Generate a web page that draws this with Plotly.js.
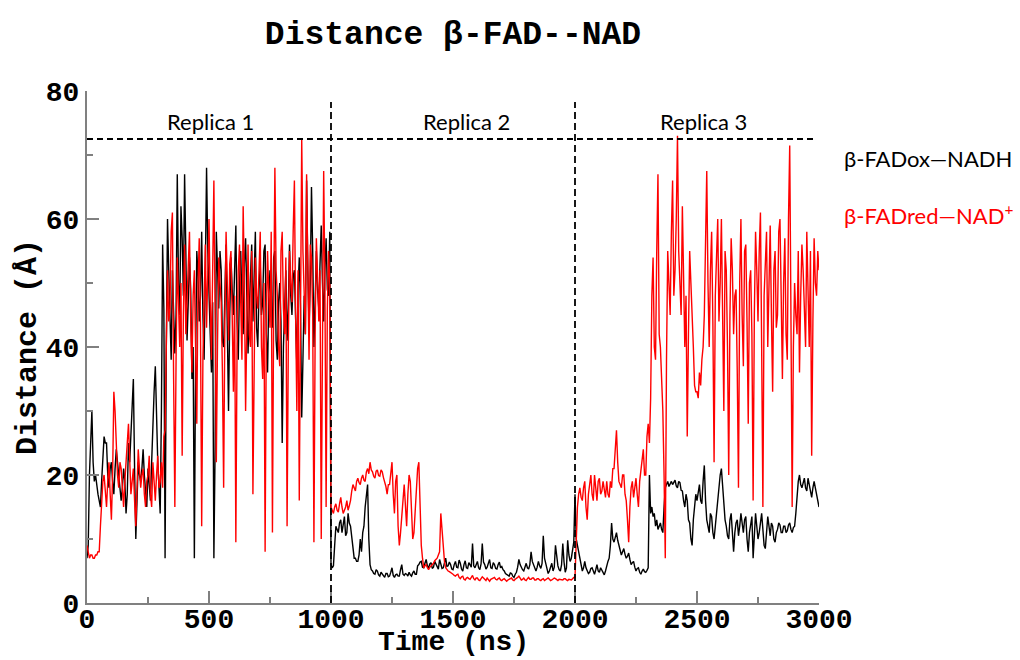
<!DOCTYPE html>
<html>
<head>
<meta charset="utf-8">
<script src="https://cdn.plot.ly/plotly-3.0.1.min.js"></script>
<style>html,body{margin:0;padding:0;background:#fff}#chart{width:1020px;height:660px}</style>
</head>
<body>
<div id="chart"></div>
<script>
// Time step between samples (ns)
const timeStep = 5;

// β-FADox—NADH (black), replica 1 (0–995 ns)
const oxRep1 = [
  7,9,20,25,30,22,19,20,18,17,16,15,19,24,26,25,25,20,18,21,
  22,19,17,21,24,22,20,18,16,18,21,19,14,17,25,22,27,30,35,21,
  10,16,22,20,19,21,24,20,17,15,21,19,16,22,29,33,37,28,22,18,
  14,30,56,46,7,40,60,52,44,38,52,47,39,45,67,50,45,62,57,48,
  67,55,41,47,54,49,35,40,7,38,55,51,44,48,58,45,38,52,68,55,
  50,42,36,47,7,24,58,50,46,55,52,41,40,48,56,43,30,45,54,49,
  45,52,59,44,38,50,55,47,42,53,57,48,39,46,50,56,44,51,58,43,
  40,49,53,45,47,55,56,42,36,48,52,46,43,54,55,41,38,47,50,44,
  25,40,48,52,41,46,56,48,45,51,52,43,37,49,54,46,29,38,48,42,
  66,52,43,50,65,55,40,47,55,49,46,53,59,50,44,52,57,49,48,58];
// replica 2 (1000–1995 ns)
const oxRep2 = [
  6,5.5,5.8,9,12,11.5,11,12.5,13,11,12,13.5,10.5,11,14,12.5,12,10,8,7,
  7,6.5,6.5,7.5,10,8,11,12,15,17,18.5,10,6,5.2,5,4.6,4.5,5.2,5,4.4,
  4.2,4.8,4.5,4.2,4,4.6,4.6,4.1,4.2,4.8,5.5,4.3,4,4.4,4.5,4.2,4.2,5.2,6,4.5,
  4.3,4.6,4.5,4.2,4.8,4.4,4.2,4.7,5,4.5,4.5,5.8,6,6.4,6.5,5.6,5.5,6.2,6.8,5.8,
  5.5,6.1,6.3,5.4,5.6,6.5,6,5.5,5.3,6.8,6.2,5.4,5.5,6.3,7,5.7,5.8,6.4,6,5.3,
  5.2,6,6.5,5.6,5.5,6.7,6.2,5.3,5,6,6.6,5.5,5.4,6.3,6,5.6,9.3,5.8,5.5,6.2,
  6.5,5.5,5.2,6.1,9.3,6.4,6,5.3,5.6,6.2,6.8,5.5,5.4,6.3,6,5.4,5.3,6,6.4,5.5,
  5.7,5.2,5,4.6,4.5,4.3,4.2,4.7,4.6,4.2,4,4.5,4.8,5.6,6.8,6,5.5,5.2,5,5.8,
  6.2,5.5,5.3,6,8,6.5,6,5.4,5,5.6,6.5,5.8,5.4,6.2,10.5,7,6,5.2,4.6,5,
  5.5,6.2,5,5.6,9,7,5.8,5.2,5,6,9.3,6.4,4.8,5.5,9.8,7.5,6.5,7,8.5,9.5];
// replica 3 (2000–3000 ns)
const oxRep3 = [
  17,10,9,8,7,6,5,5.5,6.5,5.5,5,4.6,4.8,5.4,5.5,4.8,4.5,5.2,6,5,
  4.8,5.5,5.2,4.7,4.4,5,6,6.5,7,9,12.5,10,9.5,10.5,11,9.8,9,8.2,7.5,8,
  8.5,7.6,7,7.3,7.8,6.8,6,6.3,6.5,5.6,5,5.4,5.5,4.8,4.5,5,5.3,4.9,4.8,5.1,
  5.5,20,14,15,13.5,14,12,13,11.5,12,12.5,11.5,11,15,18,18.5,19,18.2,18.5,19,
  18.5,19,19.2,18.3,18,19,18.8,17.6,17.5,16,15,17,16,13,12.5,10,9,13,15,17,
  16,17.5,18.5,16,15.5,19,21.5,16,13,12,11,14,13.5,11,10,12,14,17,18,20,
  21,18,15,13,12,10.5,10,13,14,11,8,11,12.5,13,10.5,12,14,12.5,11,13,
  13.5,10,8,11,12,13.5,7,10,14,12,10,11,13,14,11.5,9,8.5,11,13.5,12,
  10.5,12.5,12,10,9.5,11,11.5,12.5,12.2,11,11,12,12,11,11.3,12.2,12.5,11.5,11,11.8,
  12,14,17,19,20,18.5,18,19,19.5,18,17.5,19.5,18.5,17,16.5,18,19,18,17,16,
  15];

// β-FADred—NAD+ (red), replica 1
const redRep1 = [
  9,8,7,7.5,7.5,7,7,7.5,7.5,8,8,12,16,19,20,17,15,19,22,17,
  13,20,33,30,24,20,18,22,21,17,15,19,23,25,28,22,17,19,21,16,
  12,18,24,21,18,20,21,17,15,19,20,23,17,15,22,19,16,20,23,18,
  19,22,18,26,27,40,52,44,46,58,61,35,15,38,54,47,40,50,23,45,
  56,42,47,55,58,44,36,48,52,40,28,50,57,44,12,38,50,56,43,55,
  60,47,38,52,66,45,22,41,54,50,47,36,18,44,58,50,41,53,55,45,
  33,48,9.5,40,52,56,44,38,62,50,30,47,56,42,40,55,17,36,54,48,
  46,52,58,40,35,50,8,44,55,48,43,58,11,46,68,52,48,40,37,55,
  58,46,42,54,12,40,55,50,47,58,66,45,30,52,16,44,72.5,55,50,42,
  67,48,38,56,54,45,9.5,42,57,51,44,52,10,40,67.5,50,15,46,55,50];
// replica 2
const redRep2 = [
  15,14.5,14,15,15.5,14.5,14.2,15.5,16.5,15,14,14.5,15,16,14.5,15.2,16,17.5,18.5,18,
  17.5,19,19.5,18.8,18.5,19.5,20,19.2,19,20.5,21,20.2,22,20.8,20.5,19.8,19.5,20.6,20.8,19.9,
  19.8,20.8,20.5,19.6,19,18.2,17,18.5,18.5,21,22,17,14,19,20,12,9,11,13,16,
  18.5,15,12,17,20,19,15,10,11,14,17,21,22,13,9,7,5.5,5.8,6,5.5,
  5.2,5.6,5.8,6,6.2,6.6,6.8,7,7.5,8,14,11,8.5,6.5,5.5,5.2,5,4.9,4.8,4.6,
  4.5,4.3,4.2,4.4,4.5,4,3.8,4.1,4.2,3.7,3.6,3.9,4,3.8,3.7,4,4.3,3.8,3.6,3.9,
  3.9,3.6,3.5,3.8,4.1,3.9,3.7,3.5,3.9,3.6,3.4,3.7,3.8,4,4,3.7,3.6,3.8,3.9,3.6,
  3.5,3.7,3.8,3.6,3.4,3.6,3.7,3.9,3.9,3.6,3.5,3.7,3.8,4,4.2,3.8,3.6,3.7,3.9,3.6,
  3.5,3.8,4,3.7,3.7,3.9,3.9,3.6,3.6,3.8,3.8,3.6,3.5,3.7,3.8,3.5,3.6,3.8,3.9,3.7,
  3.5,3.6,3.7,3.9,3.8,3.6,3.5,3.7,3.7,3.6,3.6,3.8,3.8,3.6,3.5,3.7,3.7,3.6,3.8,4];
// replica 3
const redRep3 = [
  4,10,15,17,18,16.5,16,18,19,15,13,17,18.5,20,17,16,20,18,16,19,
  19.5,17,17.5,19,18,16.5,19,17,16.5,19,18,21,21,24,27,22,19,18.5,18,20,
  20,17,16,13,9.5,15,18,19,16.5,18,19.5,17,15,19,21,23,24,20,20,26,
  28,25,32,48,54,40,38,55,67,42,40,35,30,20,7,38,55,50,45,58,
  66,48,52,60,73,55,48,45,62,50,40,48,26,42,55,50,46,40,34,33,
  33,32,36,34,38,40,45,56,67.5,50,40,52,58,44,22,48,55,60,44,50,
  60,47,30,55,52,40,20,45,57,52,42,48,49,36,18,50,60,45,37,55,
  56,44,28,50,52,42,16,45,58,52,44,55,61,40,15,48,53,58,40,50,
  59,45,33,52,55,43,45,58,60,48,35,50,57,42,38,60,71.5,45,15,40,
  50,45,42,55,36,48,56,52,45,40,58,50,40,55,23,44,57,50,48,55,
  52];

// Texts
const chartTitle = "Distance β-FAD--NAD";
const xTitle = "Time (ns)";
const yTitle = "Distance (Å)";
const replicaLabels = ["Replica 1", "Replica 2", "Replica 3"];
const replicaLabelX = [508, 1557, 2525];
const replicaBounds = [1000, 2000];
const refLevel = 72.5;
const seriesNames = ["β-FADox—NADH", "β-FADred—NAD<sup>+</sup>"];

const oxVals = oxRep1.concat(oxRep2, oxRep3);
const redVals = redRep1.concat(redRep2, redRep3);
const times = oxVals.map((_, i) => i * timeStep);

const monoBold = {family: "Liberation Mono, Courier New, monospace", weight: "bold", color: "#000"};
const sansFont = "Lato, Open Sans, sans-serif";

const traces = [
  {x: times, y: oxVals, type: "scatter", mode: "lines", name: seriesNames[0],
   line: {color: "#000000", width: 1.4}, showlegend: false},
  {x: times, y: redVals, type: "scatter", mode: "lines", name: seriesNames[1],
   line: {color: "#ff0000", width: 1.4}, showlegend: false}
];

const shapes = [
  {type: "line", xref: "x", yref: "y", x0: 0, x1: 2985, y0: refLevel, y1: refLevel,
   line: {color: "#000", width: 1.8, dash: "6px,4px"}}
].concat(replicaBounds.map(b => ({
  type: "line", xref: "x", yref: "y", x0: b, x1: b, y0: 0, y1: 78.3,
  line: {color: "#000", width: 1.8, dash: "7px,4px"}
})));

const annotations = replicaLabels.map((t, i) => ({
  text: t, x: replicaLabelX[i], y: 75.3, xref: "x", yref: "y",
  showarrow: false, xanchor: "center", yanchor: "middle",
  font: {family: sansFont, size: 22, color: "#000"}
})).concat([
  {text: seriesNames[0], xref: "paper", yref: "paper", x: 1.031, y: 0.869,
   xanchor: "left", yanchor: "middle", showarrow: false,
   font: {family: sansFont, size: 22, color: "#000"}},
  {text: seriesNames[1], xref: "paper", yref: "paper", x: 1.031, y: 0.758,
   xanchor: "left", yanchor: "middle", showarrow: false,
   font: {family: sansFont, size: 22, color: "#ff0000"}},
  {text: xTitle, xref: "paper", yref: "paper", x: 0.5, y: 0, yshift: -56,
   xanchor: "center", yanchor: "bottom", showarrow: false, borderpad: 0,
   font: Object.assign({size: 28}, monoBold)}
]);

const axisCommon = {
  showline: true, linecolor: "#808080", linewidth: 2, mirror: false,
  showgrid: false, zeroline: false,
  ticks: "inside", ticklen: 12, tickwidth: 2, tickcolor: "#808080",
  tickfont: Object.assign({size: 28}, monoBold)
};

const layout = {
  width: 1020, height: 660,
  margin: {l: 87, r: 201, t: 91, b: 57},
  paper_bgcolor: "#fff", plot_bgcolor: "#fff",
  title: {text: chartTitle, x: 0.5, xref: "paper", y: 1 - 32/660, yref: "container",
          xanchor: "center", yanchor: "middle", font: Object.assign({size: 33}, monoBold)},
  xaxis: Object.assign({}, axisCommon, {
    range: [0, 3000], tick0: 0, dtick: 500, ticklabelstandoff: -11,
    minor: {dtick: 250, ticks: "inside", ticklen: 6, tickwidth: 2, tickcolor: "#808080"}
  }),
  yaxis: Object.assign({}, axisCommon, {
    range: [0, 80], tick0: 0, dtick: 20, ticklabelstandoff: 0,
    minor: {dtick: 10, ticks: "inside", ticklen: 6, tickwidth: 2, tickcolor: "#808080"},
    title: {text: yTitle, standoff: 0, font: Object.assign({size: 30}, monoBold)}
  }),
  shapes: shapes,
  annotations: annotations,
  showlegend: false
};

Plotly.newPlot("chart", traces, layout, {displayModeBar: false, staticPlot: true});
</script>
</body>
</html>
